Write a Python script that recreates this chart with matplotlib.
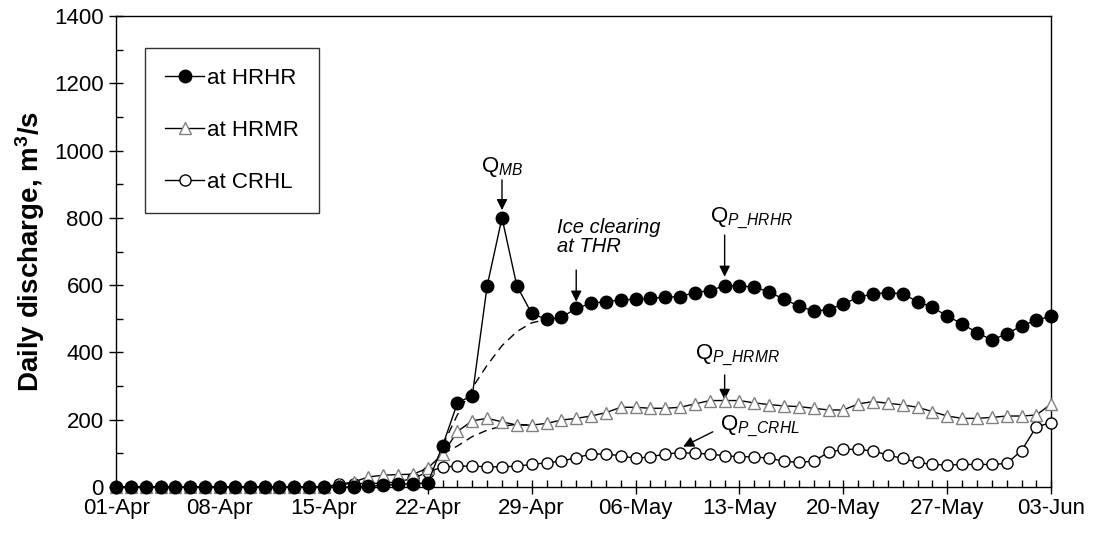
import matplotlib
matplotlib.use('Agg')
import matplotlib.pyplot as plt
import numpy as np
from matplotlib.ticker import MultipleLocator, FixedLocator

plt.rcParams['font.family'] = ['Liberation Sans', 'DejaVu Sans']
plt.rcParams['mathtext.fontset'] = 'custom'
plt.rcParams['mathtext.rm'] = 'Liberation Sans'
plt.rcParams['mathtext.it'] = 'Liberation Sans:italic'
plt.rcParams['mathtext.bf'] = 'Liberation Sans:bold'

# day index 0 = 01-Apr ... 63 = 03-Jun
tick_days = [0, 7, 14, 21, 28, 35, 42, 49, 56, 63]
tick_labels = ['01-Apr', '08-Apr', '15-Apr', '22-Apr', '29-Apr',
               '06-May', '13-May', '20-May', '27-May', '03-Jun']

hrhr = [0]*17 + [2, 5, 8, 10, 12,
        123, 250, 272, 598, 800, 598, 516, 498, 504, 531, 546, 551, 556, 558,
        561, 564, 566, 578, 584, 598, 598, 594, 580, 558, 538, 523, 527, 544,
        564, 574, 578, 574, 551, 534, 508, 485, 459, 437, 455, 479, 496, 508]

hrmr = [0]*15 + [8, 15, 30, 35, 37, 38, 56,
        98, 165, 197, 204, 194, 184, 184, 189, 199, 204, 211, 221, 237, 237,
        234, 234, 237, 247, 257, 257, 257, 250, 245, 241, 239, 234, 229, 229,
        247, 254, 249, 244, 237, 224, 211, 204, 204, 207, 211, 211, 214, 247]

crhl = [0]*15 + [8, 10, 10, 12, 15, 26, 44,
        60, 62, 62, 60, 60, 62, 67, 72, 77, 87, 98, 98, 93, 85,
        90, 98, 102, 100, 98, 93, 90, 90, 85, 77, 73, 77, 103, 112,
        112, 107, 95, 85, 73, 67, 65, 67, 67, 67, 70, 108, 179, 191]

# dashed "without ice" curves
dash_hrhr_days = [22, 23, 24, 25, 26, 27, 28, 29]
dash_hrhr = [123, 215, 295, 362, 420, 462, 488, 498]
dash_hrmr_days = [22, 23, 24, 25, 26, 27, 28]
dash_hrmr = [98, 122, 150, 169, 181, 186, 184]

days = np.arange(len(hrhr))

fig = plt.figure(figsize=(10.95, 5.34), dpi=100)
ax = fig.add_axes([0.106, 0.088, 0.854, 0.882])

ax.plot(dash_hrhr_days, dash_hrhr, color='black', lw=1.0, ls=(0, (6, 4)), zorder=2)
ax.plot(dash_hrmr_days, dash_hrmr, color='black', lw=1.0, ls=(0, (6, 4)), zorder=2)

ax.plot(days, crhl, color='black', lw=1.0, marker='o', ms=8,
        mfc='white', mec='black', mew=1.0, label='at CRHL', zorder=3,
        clip_on=False)
ax.plot(days, hrmr, color='black', lw=1.0, marker='^', ms=8,
        mfc='white', mec='#808080', mew=1.0, label='at HRMR', zorder=4,
        clip_on=False)
ax.plot(days, hrhr, color='black', lw=1.0, marker='o', ms=9,
        mfc='black', mec='black', label='at HRHR', zorder=5, clip_on=False)

ax.set_xlim(0, 63)
ax.set_ylim(0, 1400)
ax.xaxis.set_major_locator(FixedLocator(tick_days))
ax.set_xticklabels(tick_labels)
ax.xaxis.set_minor_locator(MultipleLocator(1))
ax.yaxis.set_major_locator(MultipleLocator(200))
ax.yaxis.set_minor_locator(MultipleLocator(100))
ax.tick_params(which='major', direction='inout', length=10, width=1.0,
               labelsize=16, top=False, right=False)
ax.tick_params(axis='x', which='major', pad=3)
ax.tick_params(axis='y', which='major', pad=4)
ax.tick_params(which='minor', direction='in', length=5, width=1.0,
               top=False, right=False)
for s in ax.spines.values():
    s.set_linewidth(1.0)

ax.set_ylabel(r'Daily discharge, m$^\mathbf{3}$/s', fontsize=20,
              fontweight='bold', labelpad=5)

h, l = ax.get_legend_handles_labels()
leg = ax.legend(h[::-1], l[::-1], loc='upper left', bbox_to_anchor=(0.031, 0.932),
                borderaxespad=0, fontsize=16, frameon=True, fancybox=False,
                edgecolor='black', labelspacing=1.4, handlelength=1.75,
                handletextpad=0.15, borderpad=0.9, numpoints=1)
leg.get_frame().set_linewidth(1.0)

arr = dict(arrowstyle='-|>', color='black', lw=1.0, mutation_scale=16,
           shrinkA=0, shrinkB=0)
ax.text(26, 951, r'$\mathrm{Q}_{MB}$', fontsize=16, ha='center', va='center')
ax.annotate('', xy=(26, 823), xytext=(26, 913), arrowprops=arr)

ax.text(29.7, 742, 'Ice clearing\nat THR', fontsize=14.5, style='italic',
        ha='left', va='center', linespacing=1.0)
ax.annotate('', xy=(31, 551), xytext=(31, 645), arrowprops=arr)

ax.text(40.0, 800, r'$\mathrm{Q}_{P\_HRHR}$', fontsize=16, ha='left', va='center')
ax.annotate('', xy=(41, 625), xytext=(41, 749), arrowprops=arr)

ax.text(39.0, 392, r'$\mathrm{Q}_{P\_HRMR}$', fontsize=16, ha='left', va='center')
ax.annotate('', xy=(41, 259), xytext=(41, 333), arrowprops=arr)

ax.text(40.7, 179, r'$\mathrm{Q}_{P\_CRHL}$', fontsize=16, ha='left', va='center')
ax.annotate('', xy=(38.2, 120), xytext=(40.2, 164), arrowprops=arr)

fig.savefig('out.png', dpi=100)
